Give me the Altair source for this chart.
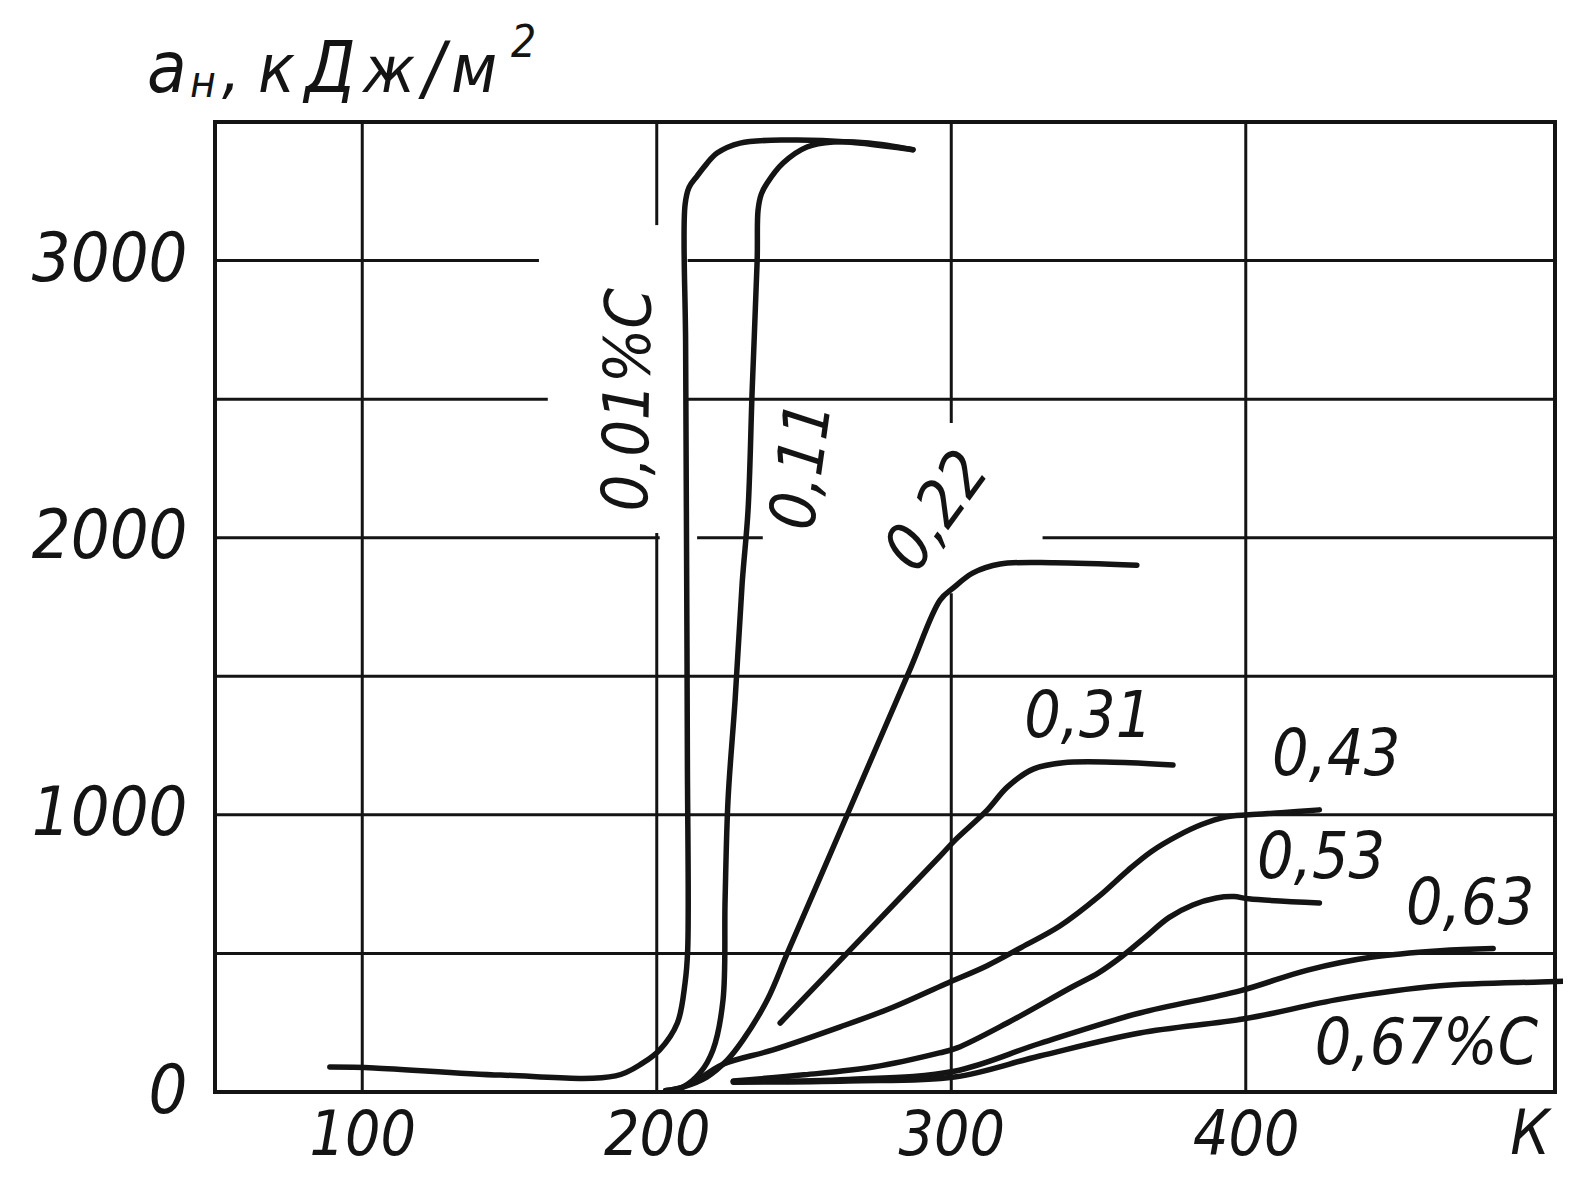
import altair as alt
import pandas as pd

FONT = "DejaVu Sans Condensed, DejaVu Sans"
INK = "#141414"

# ---- curve data: temperature (K) and impact toughness a_н (кДж/м²) ----
series_names = ["0,01%C", "0,11", "0,22", "0,31", "0,43", "0,53", "0,63", "0,67%C"]

t_001 = [89, 104, 147, 186, 195.3, 201, 207, 209.6, 210.5, 210.4, 210.1, 209.8, 209.6, 211, 213.7, 217, 220.5, 228.3, 245, 265, 287]
a_001 = [90, 87, 61, 58, 105, 152, 249, 393, 512, 1200, 2000, 2700, 3200, 3265, 3305, 3350, 3388, 3424, 3435, 3428, 3400]

t_011 = [203, 208.9, 214.7, 219.1, 222.5, 223.2, 224.2, 226.6, 229, 231, 232.4, 234.1, 234.4, 235.5, 237.5, 242.9, 251, 260, 272, 287]
a_011 = [5, 18, 69, 152, 332, 693, 1054, 1414, 1836, 2100, 2533, 3002, 3182, 3240, 3280, 3352, 3410, 3428, 3424, 3400]

t_022 = [203, 208.9, 217, 223.9, 229.3, 237.5, 244.3, 253.1, 265.6, 286, 296.2, 300.6, 307.4, 316.6, 335, 363]
a_022 = [5, 18, 54, 115, 188, 332, 500, 716, 1023, 1525, 1775, 1818, 1873, 1905, 1910, 1901]

t_031 = [241.9, 265.6, 285, 296.2, 301.3, 312.2, 319, 327.8, 338, 355, 375.3]
a_031 = [249, 512, 727, 851, 909, 1017, 1100, 1165, 1188, 1190, 1180]

t_043 = [215, 222.5, 239.5, 262.3, 280, 298, 312, 324, 337, 350, 360, 368, 377, 385, 393, 401, 412, 425]
a_043 = [50, 100, 152, 235, 305, 390, 455, 523, 600, 705, 800, 868, 925, 965, 992, 1000, 1008, 1018]

t_053 = [226, 250, 273.5, 296, 302, 319, 341, 350, 358, 366, 374, 382, 390, 396, 401, 425]
a_053 = [40, 62, 90, 141, 159, 249, 379, 430, 490, 560, 630, 675, 700, 705, 697, 682]

t_063 = [226, 265, 301, 330, 364, 398, 421, 443, 466, 484]
a_063 = [38, 45, 75, 175, 285, 365, 440, 487, 510, 518]

t_067 = [226, 265, 301, 330, 364, 400, 432, 466, 500, 510]
a_067 = [35, 40, 54, 130, 213, 265, 335, 383, 397, 400]

all_t = [t_001, t_011, t_022, t_031, t_043, t_053, t_063, t_067]
all_a = [a_001, a_011, a_022, a_031, a_043, a_053, a_063, a_067]

# ---- curve labels ----
label_text = ["0,01%C", "0,11", "0,22", "0,31", "0,43", "0,53", "0,63", "0,67%C"]
label_t = [190.9, 249.7, 295.5, 346.5, 430.7, 425.6, 476.2, 461.3]
label_a = [2497, 2259, 2093, 1349, 1212, 841, 675, 170]
label_angle = [271, 278, 306, 0, 0, 0, 0, 0]

# ---- grid (hand-drawn, interrupted near labels) ----
h_grid_val = [500, 1000, 1500, 2000, 2000, 2000, 2500, 2500, 3000, 3000]
h_grid_from = [50, 50, 50, 50, 213.7, 331, 50, 210.6, 50, 210.5]
h_grid_to = [505, 505, 505, 201, 236, 505, 163, 505, 160, 505]
v_grid_val = [100, 200, 200, 300, 300, 400]
v_grid_from = [0, 0, 3128, 0, 2414, 0]
v_grid_to = [3500, 2017, 3500, 1800, 3500, 3500]

x_ticks = [100, 200, 300, 400]
y_ticks = [0, 1000, 2000, 3000]

# ---- y-axis title, letter by letter (hand-lettered, spaced) ----
title_chars = ["a", "н", ",", "к", "Д", "ж", "/", "м", "2"]
title_dx = [-68, -25, 7, 43, 90, 148, 208, 236, 296]
title_dy = [-30, -25, -30, -30, -30, -30, -30, -30, -65]
title_fs = [72, 44, 64, 68, 72, 64, 72, 68, 44]

rows = []
for name, ts, as_ in zip(series_names, all_t, all_a):
    for i, (t, a) in enumerate(zip(ts, as_)):
        rows.append({"series": name, "i": i, "T": t, "a": a})
curves = pd.DataFrame(rows)

labels = pd.DataFrame({"text": label_text, "T": label_t, "a": label_a, "ang": label_angle})
hgrid = pd.DataFrame({"v": h_grid_val, "f": h_grid_from, "t": h_grid_to})
vgrid = pd.DataFrame({"v": v_grid_val, "f": v_grid_from, "t": v_grid_to})
one = pd.DataFrame({"k": [0]})

XS = alt.Scale(domain=[50, 505], nice=False, zero=False)
YS = alt.Scale(domain=[0, 3500], nice=False, zero=False)

X_AX = alt.Axis(values=x_ticks, grid=False, ticks=False, tickSize=0, domain=False,
                labelFont=FONT, labelFontSize=62, labelFontStyle="italic",
                labelColor=INK, labelPadding=43, labelBaseline="middle",
                labelFlush=False, title=None)
Y_AX = alt.Axis(values=y_ticks, grid=False, ticks=False, tickSize=0, domain=False,
                labelFont=FONT, labelFontSize=68, labelFontStyle="italic",
                labelColor=INK, labelPadding=28, labelBaseline="middle",
                labelAlign="right", format="d", title=None)

lines = alt.Chart(curves).mark_line(
    interpolate="catmull-rom", color=INK, strokeWidth=5.5, strokeCap="round", strokeJoin="round"
).encode(
    x=alt.X("T:Q", scale=XS, axis=X_AX),
    y=alt.Y("a:Q", scale=YS, axis=Y_AX),
    detail="series:N",
    order="i:Q",
)

hrules = alt.Chart(hgrid).mark_rule(color=INK, strokeWidth=3).encode(
    y=alt.Y("v:Q", scale=YS, axis=Y_AX),
    x=alt.X("f:Q", scale=XS, axis=X_AX),
    x2="t:Q",
)
vrules = alt.Chart(vgrid).mark_rule(color=INK, strokeWidth=3).encode(
    x=alt.X("v:Q", scale=XS, axis=X_AX),
    y=alt.Y("f:Q", scale=YS, axis=Y_AX),
    y2="t:Q",
)

texts = alt.Chart(labels).mark_text(
    font=FONT, fontSize=64, fontStyle="italic", color=INK, align="center", baseline="middle"
).encode(
    x=alt.X("T:Q", scale=XS, axis=X_AX),
    y=alt.Y("a:Q", scale=YS, axis=Y_AX),
    text="text:N",
    angle=alt.Angle("ang:Q", scale=None),
)

title_layers = []
for ch, dx, dy, fs in zip(title_chars, title_dx, title_dy, title_fs):
    title_layers.append(
        alt.Chart(one).mark_text(font=FONT, fontSize=fs, fontStyle="italic", color=INK,
                                 align="left", baseline="alphabetic").encode(
            x=alt.value(dx), y=alt.value(dy), text=alt.value(ch))
    )

t_k = alt.Chart(one).mark_text(font=FONT, fontSize=62, fontStyle="italic", color=INK,
                               align="center", baseline="middle").encode(
    x=alt.value(1315), y=alt.value(1013), text=alt.value("К"))

chart = alt.layer(hrules, vrules, lines, texts, *title_layers, t_k).properties(
    width=1340, height=970,
    padding={"left": 207, "top": 114, "right": 8, "bottom": 80},
    autosize=alt.AutoSizeParams(type="none"),
    background="white",
).configure_view(stroke=INK, strokeWidth=4)

chart.save("out.html", embed_options={"renderer": "svg", "actions": False})
